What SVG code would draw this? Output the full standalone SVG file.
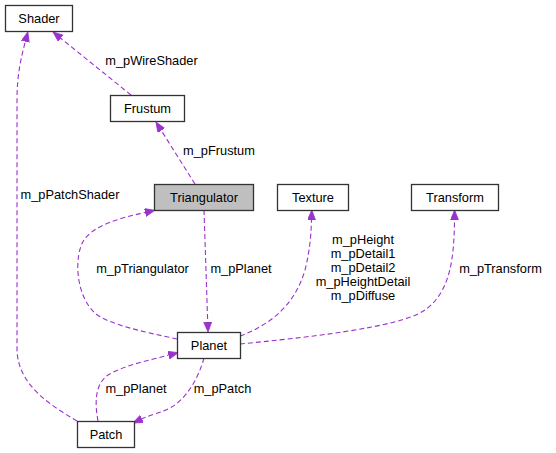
<svg xmlns="http://www.w3.org/2000/svg" width="556" height="453" viewBox="0 0 556 453">
<style>
.n rect{fill:#ffffff;stroke:#333333;stroke-width:1.3}
.n.cur rect{fill:#bfbfbf}
text{font-family:"Liberation Sans",Arial,Helvetica,sans-serif;font-size:12.8px;fill:#000000}
.n text{text-anchor:middle}
.lbl{text-anchor:middle}
.e{fill:none;stroke:#9a32cd;stroke-width:1.1;stroke-dasharray:5,3;marker-end:url(#ah)}
</style>
<defs>
<marker id="ah" markerUnits="userSpaceOnUse" markerWidth="12" markerHeight="10" refX="0" refY="4" orient="auto" viewBox="0 0 12 10">
<path d="M0,0 L10,4 L0,8 z" fill="#9a32cd" stroke="#9a32cd" stroke-width="0.8"/>
</marker>
</defs>
<rect width="556" height="453" fill="#ffffff"/>
<g id="connectors">
<path class="e" d="M131,95 L60.8,38.3"/>
<path class="e" d="M195,184 L161.3,130.5"/>
<path class="e" d="M77,421 C50,405 18,385 17,350 L17,100 C17,75 21,58 25.3,41.6"/>
<path class="e" d="M177,339 C150,333 108,325 95,313 C75,295 74,255 84,240 C94,225 120,218 145.1,212.5"/>
<path class="e" d="M204,210 L207.7,322"/>
<path class="e" d="M240,336 C270,325 295,305 305,270 C310,250 311,235 311.5,220"/>
<path class="e" d="M240,344 C300,338 400,328 425,310 C450,292 454,260 454.5,220"/>
<path class="e" d="M98,421 C95,405 94,385 108,375 C125,365 150,360 168.5,355.2"/>
<path class="e" d="M204,358 C198,380 185,400 170,408 C160,413 150,415 141.9,418.8"/>
<text class="lbl" x="151.5" y="65">m_pWireShader</text>
<text class="lbl" x="219" y="155">m_pFrustum</text>
<text class="lbl" x="70" y="199">m_pPatchShader</text>
<text class="lbl" x="142.5" y="273">m_pTriangulator</text>
<text class="lbl" x="241" y="273">m_pPlanet</text>
<text class="lbl" x="363" y="244">m_pHeight</text>
<text class="lbl" x="363" y="258">m_pDetail1</text>
<text class="lbl" x="363" y="272">m_pDetail2</text>
<text class="lbl" x="363" y="286">m_pHeightDetail</text>
<text class="lbl" x="363" y="300">m_pDiffuse</text>
<text class="lbl" x="500.5" y="273">m_pTransform</text>
<text class="lbl" x="136" y="393">m_pPlanet</text>
<text class="lbl" x="222.5" y="393">m_pPatch</text>
</g>
<g id="Shader" class="n"><rect x="5.5" y="5.5" width="67" height="26"/><text x="39" y="23">Shader</text></g>
<g id="Frustum" class="n"><rect x="110.5" y="95.5" width="74" height="26"/><text x="147.5" y="113">Frustum</text></g>
<g id="Triangulator" class="n cur"><rect x="154.5" y="184.5" width="99" height="26"/><text x="204" y="202">Triangulator</text></g>
<g id="Texture" class="n"><rect x="277.5" y="184.5" width="71" height="26"/><text x="313" y="202">Texture</text></g>
<g id="Transform" class="n"><rect x="411.5" y="184.5" width="87" height="26"/><text x="455" y="202">Transform</text></g>
<g id="Planet" class="n"><rect x="177.5" y="332.5" width="63" height="26"/><text x="209" y="350">Planet</text></g>
<g id="Patch" class="n"><rect x="77.5" y="421.5" width="57" height="26"/><text x="106" y="439">Patch</text></g>
</svg>
